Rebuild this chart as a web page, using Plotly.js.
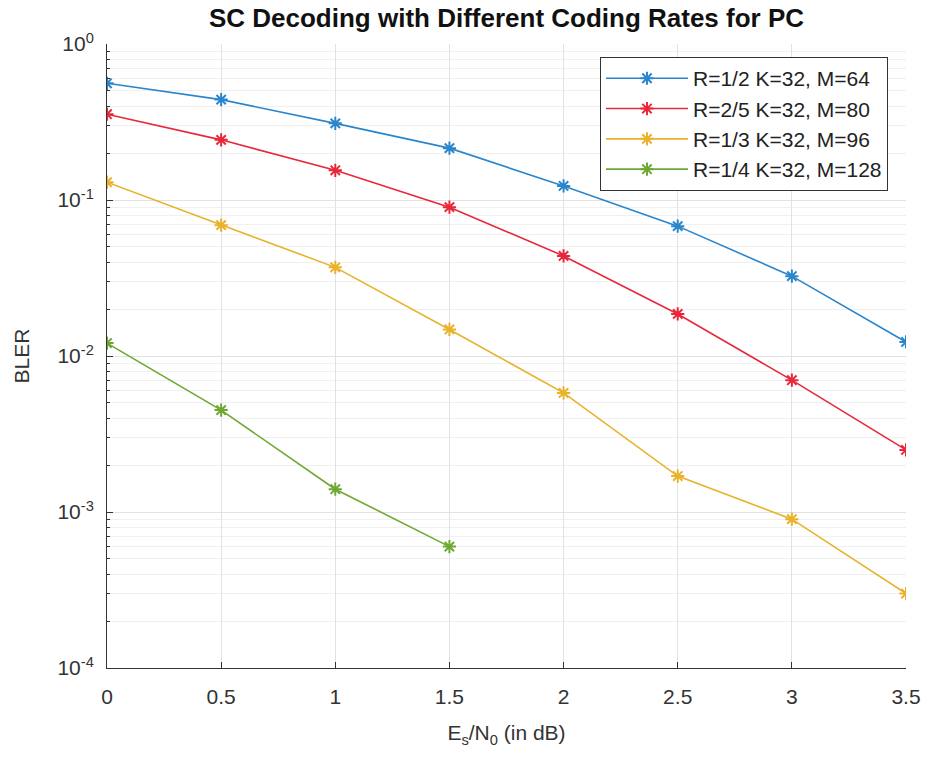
<!DOCTYPE html>
<html>
<head>
<meta charset="utf-8">
<script src="https://cdn.plot.ly/plotly-3.0.1.min.js"></script>
<style>html,body{margin:0;padding:0;background:#fff;}#chart{width:928px;height:757px;}</style>
</head>
<body>
<div id="chart"></div>
<script>
const snr = [0, 0.5, 1, 1.5, 2, 2.5, 3, 3.5];
const snrShort = [0, 0.5, 1, 1.5];
const bler_R12 = [0.56, 0.44, 0.31, 0.215, 0.123, 0.068, 0.0325, 0.0123];
const bler_R25 = [0.355, 0.243, 0.155, 0.090, 0.0438, 0.0186, 0.0070, 0.0025];
const bler_R13 = [0.130, 0.069, 0.037, 0.0148, 0.0058, 0.0017, 0.00090, 0.00030];
const bler_R14 = [0.0121, 0.0045, 0.0014, 0.00060];
const seriesNames = ["R=1/2 K=32, M=64", "R=2/5 K=32, M=80", "R=1/3 K=32, M=96", "R=1/4 K=32, M=128"];
const xTicks = [0, 0.5, 1, 1.5, 2, 2.5, 3, 3.5];
const yExponents = [-4, -3, -2, -1, 0];

const colors = ["#2a86cc", "#e8283a", "#e8b32a", "#6ea832"];
const xs = [snr, snr, snr, snrShort];
const ys = [bler_R12, bler_R25, bler_R13, bler_R14];

const traces = ys.map((y, i) => ({
  x: xs[i], y: y, name: seriesNames[i], type: 'scatter', mode: 'lines+markers',
  line: {color: colors[i], width: 1.6},
  marker: {symbol: 'asterisk-open', size: 11, color: colors[i], line: {color: colors[i], width: 2}}
}));

const yTickVals = yExponents.map(e => Math.pow(10, e));
const yTickText = yExponents.map(e => '10<sup>' + e + '</sup>');
const minorVals = [];
for (let e = -4; e < 0; e++) for (let m = 2; m <= 9; m++) minorVals.push(m * Math.pow(10, e));

const font = 'Liberation Sans, Arial, Helvetica, sans-serif';
const layout = {
  width: 928, height: 757,
  margin: {l: 107, r: 22, t: 44, b: 89},
  paper_bgcolor: '#fff', plot_bgcolor: '#fff',
  font: {family: font, color: '#333', size: 20},
  title: {text: '<b>SC Decoding with Different Coding Rates for PC</b>', font: {family: font, size: 26, color: '#111'},
          x: 0.5, xanchor: 'center', xref: 'paper', y: 0.976, yanchor: 'middle'},
  showlegend: true,
  legend: {x: 0.617, y: 0.979, xanchor: 'left', yanchor: 'top', bgcolor: '#fff', bordercolor: '#333', borderwidth: 1,
           font: {family: font, size: 21, color: '#222'}, traceorder: 'normal', itemwidth: 82},
  xaxis: {
    range: [0, 3.5], tickmode: 'array', tickvals: xTicks, ticktext: xTicks.map(String),
    ticks: 'inside', ticklen: 6, tickcolor: '#333', showline: true, linecolor: '#333', linewidth: 1,
    showgrid: true, gridcolor: '#e2e2e2', zeroline: false, mirror: false,
    tickfont: {size: 21, color: '#333'}, ticklabelstandoff: 10,
    title: {text: 'E<sub>s</sub>/N<sub>0</sub> (in dB)', font: {size: 21, color: '#333'}, standoff: 18}
  },
  yaxis: {
    type: 'log', range: [-4, 0], tickmode: 'array', tickvals: yTickVals, ticktext: yTickText,
    ticks: 'inside', ticklen: 6, tickcolor: '#333', showline: true, linecolor: '#333', linewidth: 1,
    showgrid: true, gridcolor: '#e2e2e2', zeroline: false,
    tickfont: {size: 21, color: '#333'}, ticklabelstandoff: 8,
    minor: {tickmode: 'array', tickvals: minorVals, ticks: 'inside', ticklen: 3, tickcolor: '#333', showgrid: true, gridcolor: '#f0f0f0'},
    title: {text: 'BLER', font: {size: 21, color: '#333'}, standoff: 22}
  }
};

Plotly.newPlot('chart', traces, layout, {displayModeBar: false, staticPlot: true});
</script>
</body>
</html>
